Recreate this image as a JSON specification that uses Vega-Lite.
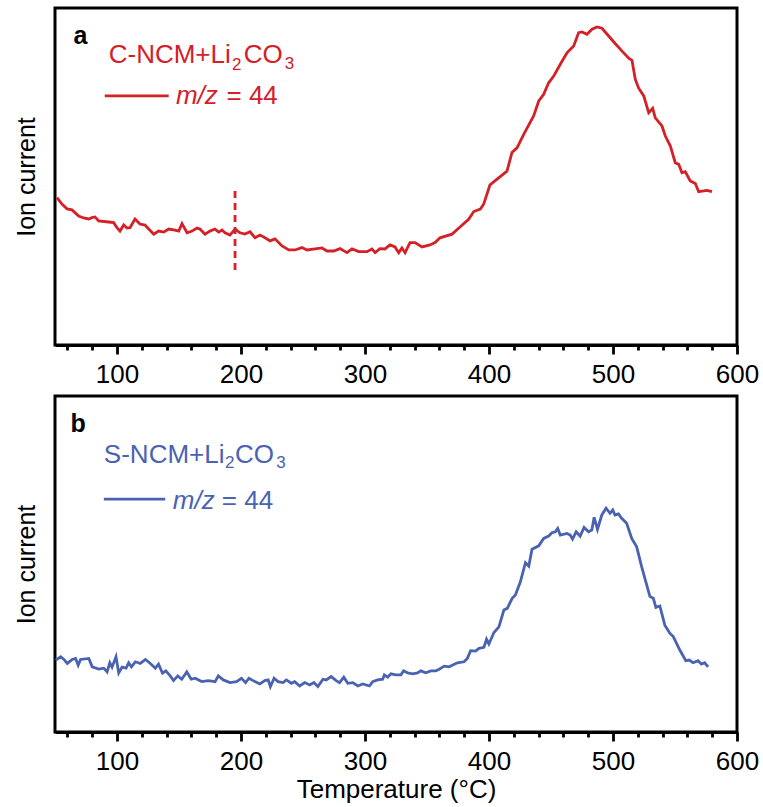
{
  "$schema": "https://vega.github.io/schema/vega-lite/v6.json",
  "autosize": {"type": "pad"},
  "padding": {"left": 12, "top": 6, "right": 5, "bottom": 3},
  "spacing": 5,
  "datasets": {
    "a_curve": [
      {"t":51.6,"v":43.7},{"t":55.6,"v":41.8},{"t":59.7,"v":40.4},{"t":63.7,"v":40.1},{"t":69.1,"v":38.3},{"t":73.1,"v":37.7},{"t":77.2,"v":37.4},{"t":79.8,"v":37.8},{"t":82.3,"v":38.0},{"t":85.2,"v":36.8},{"t":93.3,"v":36.5},{"t":97.3,"v":36.3},{"t":100.0,"v":34.8},{"t":102.4,"v":33.8},{"t":105.4,"v":35.6},{"t":108.1,"v":34.7},{"t":110.5,"v":34.8},{"t":114.5,"v":37.4},{"t":118.5,"v":35.9},{"t":122.6,"v":35.6},{"t":125.6,"v":34.4},{"t":129.6,"v":32.9},{"t":133.6,"v":33.8},{"t":137.7,"v":33.5},{"t":141.7,"v":34.4},{"t":146.8,"v":34.1},{"t":149.8,"v":33.8},{"t":152.4,"v":36.0},{"t":156.5,"v":33.3},{"t":160.5,"v":33.8},{"t":164.5,"v":34.7},{"t":166.9,"v":34.4},{"t":171.0,"v":32.9},{"t":175.0,"v":33.8},{"t":179.0,"v":34.4},{"t":182.0,"v":33.5},{"t":184.7,"v":34.1},{"t":187.1,"v":33.3},{"t":191.1,"v":32.6},{"t":195.2,"v":34.4},{"t":199.2,"v":33.3},{"t":203.2,"v":32.9},{"t":207.3,"v":33.6},{"t":211.3,"v":31.8},{"t":215.3,"v":32.6},{"t":219.4,"v":31.8},{"t":223.4,"v":30.9},{"t":227.4,"v":31.5},{"t":233.1,"v":29.4},{"t":238.5,"v":28.2},{"t":243.5,"v":28.2},{"t":249.2,"v":28.9},{"t":253.2,"v":28.2},{"t":259.7,"v":28.5},{"t":265.3,"v":28.8},{"t":269.4,"v":27.9},{"t":274.8,"v":27.9},{"t":279.8,"v":28.6},{"t":285.5,"v":27.4},{"t":289.5,"v":28.5},{"t":294.9,"v":27.7},{"t":301.6,"v":27.7},{"t":305.6,"v":28.5},{"t":308.1,"v":27.4},{"t":312.1,"v":28.6},{"t":316.1,"v":28.5},{"t":320.2,"v":29.7},{"t":324.2,"v":29.1},{"t":327.2,"v":27.4},{"t":329.8,"v":28.8},{"t":332.3,"v":27.4},{"t":336.3,"v":30.4},{"t":340.3,"v":30.4},{"t":346.0,"v":29.1},{"t":352.4,"v":29.7},{"t":356.5,"v":30.4},{"t":360.5,"v":31.8},{"t":370.2,"v":32.9},{"t":376.6,"v":35.0},{"t":383.6,"v":37.3},{"t":387.7,"v":39.6},{"t":393.0,"v":40.3},{"t":395.7,"v":41.8},{"t":400.8,"v":47.5},{"t":407.8,"v":49.6},{"t":414.5,"v":51.6},{"t":418.5,"v":57.1},{"t":422.6,"v":58.5},{"t":428.0,"v":62.5},{"t":436.0,"v":68.0},{"t":440.1,"v":72.4},{"t":444.1,"v":74.4},{"t":448.1,"v":77.8},{"t":452.2,"v":79.8},{"t":457.5,"v":83.3},{"t":462.9,"v":86.7},{"t":468.3,"v":88.7},{"t":472.3,"v":92.7},{"t":475.0,"v":92.9},{"t":479.0,"v":92.2},{"t":483.1,"v":93.7},{"t":487.1,"v":94.4},{"t":491.1,"v":94.0},{"t":496.5,"v":91.7},{"t":501.9,"v":89.4},{"t":507.3,"v":87.2},{"t":512.7,"v":85.1},{"t":515.3,"v":84.5},{"t":518.0,"v":78.8},{"t":520.7,"v":76.2},{"t":524.8,"v":73.9},{"t":528.8,"v":68.9},{"t":532.0,"v":70.2},{"t":534.1,"v":67.4},{"t":539.5,"v":65.0},{"t":542.2,"v":62.0},{"t":546.2,"v":59.1},{"t":550.2,"v":54.1},{"t":553.0,"v":53.6},{"t":555.6,"v":51.1},{"t":558.3,"v":51.4},{"t":562.3,"v":48.7},{"t":566.4,"v":47.9},{"t":569.1,"v":45.5},{"t":573.1,"v":45.7},{"t":575.8,"v":45.9},{"t":579.8,"v":45.5}
    ],
    "b_curve": [
      {"t":50.6,"v":21.4},{"t":54.6,"v":22.4},{"t":57.2,"v":21.6},{"t":59.9,"v":20.4},{"t":63.9,"v":21.6},{"t":66.6,"v":21.9},{"t":68.7,"v":19.9},{"t":70.6,"v":21.6},{"t":77.3,"v":21.9},{"t":80.0,"v":19.4},{"t":85.3,"v":18.7},{"t":89.4,"v":19.0},{"t":92.0,"v":17.9},{"t":94.2,"v":20.6},{"t":96.0,"v":19.3},{"t":99.2,"v":22.4},{"t":101.4,"v":17.6},{"t":104.1,"v":19.3},{"t":107.3,"v":19.0},{"t":109.4,"v":20.6},{"t":111.6,"v":19.4},{"t":114.8,"v":20.9},{"t":118.8,"v":20.4},{"t":122.9,"v":21.6},{"t":126.9,"v":20.4},{"t":130.9,"v":19.0},{"t":133.5,"v":20.2},{"t":136.7,"v":17.5},{"t":139.4,"v":18.2},{"t":142.9,"v":16.7},{"t":145.6,"v":15.3},{"t":149.0,"v":16.7},{"t":152.2,"v":15.7},{"t":156.3,"v":17.9},{"t":159.8,"v":15.7},{"t":163.0,"v":16.0},{"t":168.3,"v":15.0},{"t":173.7,"v":15.3},{"t":179.1,"v":15.0},{"t":181.7,"v":16.7},{"t":185.7,"v":15.5},{"t":191.1,"v":14.7},{"t":196.4,"v":15.0},{"t":200.4,"v":16.0},{"t":203.7,"v":14.7},{"t":206.4,"v":16.0},{"t":211.2,"v":15.0},{"t":215.2,"v":14.3},{"t":219.2,"v":15.3},{"t":221.9,"v":15.5},{"t":223.7,"v":13.5},{"t":226.7,"v":16.0},{"t":229.9,"v":15.0},{"t":233.9,"v":14.7},{"t":236.6,"v":15.5},{"t":240.6,"v":14.5},{"t":243.3,"v":15.0},{"t":247.3,"v":13.7},{"t":251.4,"v":14.7},{"t":255.4,"v":14.0},{"t":258.8,"v":14.7},{"t":262.0,"v":13.5},{"t":266.1,"v":15.7},{"t":268.7,"v":15.5},{"t":272.7,"v":16.5},{"t":276.7,"v":15.3},{"t":279.5,"v":14.7},{"t":282.9,"v":16.3},{"t":286.1,"v":14.5},{"t":290.2,"v":14.7},{"t":294.2,"v":13.7},{"t":298.2,"v":14.3},{"t":303.6,"v":13.7},{"t":306.2,"v":15.0},{"t":310.2,"v":15.5},{"t":314.3,"v":15.7},{"t":315.6,"v":17.0},{"t":318.3,"v":16.3},{"t":320.9,"v":17.3},{"t":324.9,"v":17.0},{"t":329.0,"v":17.0},{"t":331.1,"v":18.2},{"t":334.3,"v":17.6},{"t":338.4,"v":17.3},{"t":342.4,"v":17.6},{"t":345.0,"v":18.2},{"t":349.0,"v":17.6},{"t":353.1,"v":18.2},{"t":357.1,"v":18.2},{"t":359.8,"v":18.7},{"t":363.9,"v":19.6},{"t":367.8,"v":19.4},{"t":374.5,"v":20.6},{"t":379.9,"v":20.9},{"t":382.5,"v":21.9},{"t":385.2,"v":24.2},{"t":389.2,"v":24.1},{"t":391.9,"v":24.9},{"t":395.9,"v":25.2},{"t":398.0,"v":27.6},{"t":399.9,"v":26.2},{"t":404.0,"v":29.6},{"t":408.0,"v":31.3},{"t":412.0,"v":36.3},{"t":414.7,"v":36.8},{"t":418.7,"v":39.8},{"t":421.3,"v":40.8},{"t":425.3,"v":44.7},{"t":429.4,"v":50.4},{"t":432.1,"v":49.4},{"t":434.7,"v":54.4},{"t":440.1,"v":55.4},{"t":444.1,"v":57.6},{"t":448.1,"v":58.3},{"t":450.8,"v":59.3},{"t":453.5,"v":59.6},{"t":455.4,"v":60.6},{"t":457.5,"v":58.6},{"t":462.9,"v":59.1},{"t":465.5,"v":58.6},{"t":467.4,"v":57.4},{"t":470.3,"v":59.6},{"t":473.5,"v":58.3},{"t":476.7,"v":60.9},{"t":480.3,"v":59.6},{"t":482.9,"v":60.1},{"t":484.8,"v":63.9},{"t":487.5,"v":60.3},{"t":491.0,"v":64.6},{"t":494.4,"v":66.6},{"t":497.6,"v":65.1},{"t":499.8,"v":66.1},{"t":501.6,"v":64.6},{"t":504.4,"v":64.9},{"t":507.0,"v":63.6},{"t":511.0,"v":62.1},{"t":515.1,"v":57.6},{"t":519.1,"v":55.1},{"t":523.1,"v":49.2},{"t":525.7,"v":45.7},{"t":529.8,"v":40.3},{"t":532.5,"v":39.8},{"t":534.6,"v":37.1},{"t":537.8,"v":37.5},{"t":541.8,"v":31.8},{"t":545.8,"v":29.4},{"t":548.6,"v":28.4},{"t":553.9,"v":24.4},{"t":558.7,"v":21.2},{"t":561.4,"v":21.4},{"t":564.6,"v":20.6},{"t":568.6,"v":21.2},{"t":571.3,"v":20.2},{"t":573.9,"v":20.6},{"t":576.7,"v":19.4}
    ],
    "a_main": [{"t":93.3,"v":83.8,"s":"C-NCM+Li"},{"t":202.2,"v":83.8,"s":"CO"},{"t":188.3,"v":71.4,"s":"= 44"}],
    "a_sub": [{"t":192.7,"v":81.6,"s":"2"},{"t":235.2,"v":81.8,"s":"3"}],
    "a_ital": [{"t":147.5,"v":71.4,"s":"m/z"}],
    "a_bold": [{"t":65.0,"v":89.3,"s":"a"}],
    "a_leg": [{"t":90.1,"t2":141.7,"v":73.9}],
    "a_dash": [{"t":195.2,"v":45.7,"v2":22.0}],
    "b_main": [{"t":89.4,"v":80.1,"s":"S-NCM+Li"},{"t":195.1,"v":80.1,"s":"CO"},{"t":184.5,"v":66.3,"s":"= 44"}],
    "b_sub": [{"t":187.1,"v":78.5,"s":"2"},{"t":228.5,"v":78.5,"s":"3"}],
    "b_ital": [{"t":145.0,"v":66.3,"s":"m/z"}],
    "b_bold": [{"t":62.6,"v":89.4,"s":"b"}],
    "b_leg": [{"t":89.4,"t2":138.9,"v":69.3}]
  },
  "vconcat": [
    {
      "width": 682,
      "height": 337,
      "encoding": {
        "x": {"field": "t", "type": "quantitative", "scale": {"domain": [50, 600], "nice": false, "zero": false},
              "axis": {"title": null}},
        "y": {"field": "v", "type": "quantitative", "scale": {"domain": [0, 100], "nice": false},
              "axis": {"title": "Ion current"}}
      },
      "layer": [
        {"data": {"name": "a_curve"}, "mark": {"type": "line", "color": "#d42027", "strokeWidth": 2.8, "interpolate": "linear"}},
        {"data": {"name": "a_dash"}, "mark": {"type": "rule", "color": "#d42027", "strokeWidth": 2.8, "strokeDash": [7, 5]},
         "encoding": {"y2": {"field": "v2"}}},
        {"data": {"name": "a_leg"}, "mark": {"type": "rule", "color": "#d42027", "strokeWidth": 2.8},
         "encoding": {"x2": {"field": "t2"}}},
        {"data": {"name": "a_main"}, "mark": {"type": "text", "color": "#d42027", "fontSize": 26, "align": "left", "baseline": "alphabetic"},
         "encoding": {"text": {"field": "s"}}},
        {"data": {"name": "a_sub"}, "mark": {"type": "text", "color": "#d42027", "fontSize": 17, "align": "left", "baseline": "alphabetic"},
         "encoding": {"text": {"field": "s"}}},
        {"data": {"name": "a_ital"}, "mark": {"type": "text", "color": "#d42027", "fontSize": 26, "fontStyle": "italic", "align": "left", "baseline": "alphabetic"},
         "encoding": {"text": {"field": "s"}}},
        {"data": {"name": "a_bold"}, "mark": {"type": "text", "color": "black", "fontSize": 25, "fontWeight": "bold", "align": "left", "baseline": "alphabetic"},
         "encoding": {"text": {"field": "s"}}}
      ]
    },
    {
      "width": 682,
      "height": 336,
      "encoding": {
        "x": {"field": "t", "type": "quantitative", "scale": {"domain": [50, 600], "nice": false, "zero": false},
              "axis": {"title": "Temperature (°C)"}},
        "y": {"field": "v", "type": "quantitative", "scale": {"domain": [0, 100], "nice": false},
              "axis": {"title": "Ion current"}}
      },
      "layer": [
        {"data": {"name": "b_curve"}, "mark": {"type": "line", "color": "#4a62b2", "strokeWidth": 2.8, "interpolate": "linear"}},
        {"data": {"name": "b_leg"}, "mark": {"type": "rule", "color": "#4a62b2", "strokeWidth": 2.8},
         "encoding": {"x2": {"field": "t2"}}},
        {"data": {"name": "b_main"}, "mark": {"type": "text", "color": "#4a62b2", "fontSize": 26, "align": "left", "baseline": "alphabetic"},
         "encoding": {"text": {"field": "s"}}},
        {"data": {"name": "b_sub"}, "mark": {"type": "text", "color": "#4a62b2", "fontSize": 17, "align": "left", "baseline": "alphabetic"},
         "encoding": {"text": {"field": "s"}}},
        {"data": {"name": "b_ital"}, "mark": {"type": "text", "color": "#4a62b2", "fontSize": 26, "fontStyle": "italic", "align": "left", "baseline": "alphabetic"},
         "encoding": {"text": {"field": "s"}}},
        {"data": {"name": "b_bold"}, "mark": {"type": "text", "color": "black", "fontSize": 25, "fontWeight": "bold", "align": "left", "baseline": "alphabetic"},
         "encoding": {"text": {"field": "s"}}}
      ]
    }
  ],
  "config": {
    "font": "Liberation Sans",
    "background": "white",
    "view": {"stroke": "black", "strokeWidth": 3},
    "axisX": {
      "values": [50, 100, 150, 200, 250, 300, 350, 400, 450, 500, 550, 600],
      "tickSize": {"condition": {"test": "datum.value % 100 === 0", "value": 9}, "value": 5},
      "labelExpr": "datum.value % 100 === 0 ? datum.label : ''",
      "labelOverlap": false,
      "labelFlush": false,
      "tickColor": "black",
      "tickWidth": 2.8,
      "domainColor": "black",
      "domainWidth": 3,
      "labelFontSize": 26,
      "labelColor": "black",
      "labelPadding": 7,
      "grid": false,
      "titleFontSize": 26,
      "titleFontWeight": "normal",
      "titleColor": "black",
      "titlePadding": 2
    },
    "axisY": {
      "labels": false,
      "ticks": false,
      "domain": false,
      "grid": false,
      "titleFontSize": 25,
      "titleFontWeight": "normal",
      "titleColor": "black",
      "titlePadding": 16
    }
  }
}
